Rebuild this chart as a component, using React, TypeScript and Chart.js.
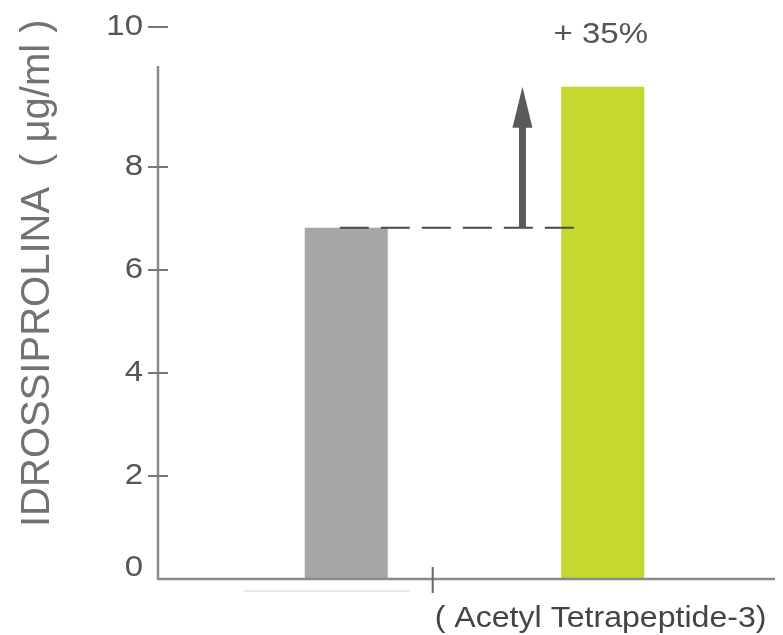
import React, { useEffect, useRef } from 'react';
import { Chart, registerables } from 'chart.js';

Chart.register(...registerables);

// ---- data ----
const categories = ['Controllo', 'Acetyl Tetrapeptide-3'];
const values = [6.82, 9.56];
const barColors = ['#a6a6a6', '#c5d82d'];
const yTickValues = [0, 2, 4, 6, 8, 10];
const yTitleMain = 'IDROSSIPROLINA';
const yTitleUnit = '( μg/ml )';
const xLabel = '( Acetyl Tetrapeptide-3)';
const increaseLabel = '+ 35%';

const FONT = '"Liberation Sans", Arial, Helvetica, sans-serif';

const overlayPlugin = {
  id: 'overlay',
  afterDatasetsDraw(chart: any) {
    const { ctx, chartArea, scales } = chart;
    const xs = scales.x;
    const ys = scales.y;
    const axisX = chartArea.left - 60;
    const axisRight = chart.width - 8;
    const y0 = ys.getPixelForValue(0);
    const yTop = ys.getPixelForValue(10);

    ctx.save();
    // axes
    ctx.strokeStyle = '#8a8a8a';
    ctx.lineWidth = 2.5;
    ctx.beginPath();
    ctx.moveTo(axisX, yTop + 2);
    ctx.lineTo(axisX, y0);
    ctx.lineTo(axisRight, y0);
    ctx.stroke();

    // faint line below axis
    ctx.strokeStyle = '#e2e2e2';
    ctx.lineWidth = 1.5;
    ctx.beginPath();
    ctx.moveTo(xs.getPixelForValue(-0.4), y0 + 12);
    ctx.lineTo(xs.getPixelForValue(0.25), y0 + 12);
    ctx.stroke();

    // x tick
    const xt = xs.getPixelForValue(0.337);
    ctx.strokeStyle = '#666';
    ctx.lineWidth = 2;
    ctx.beginPath();
    ctx.moveTo(xt, y0 - 12);
    ctx.lineTo(xt, y0 + 14);
    ctx.stroke();

    // y ticks and labels
    yTickValues.forEach((v) => {
      let y = ys.getPixelForValue(v);
      if (v === 10) y -= 37;
      if (v !== 0) {
        ctx.strokeStyle = '#777';
        ctx.lineWidth = 2;
        ctx.beginPath();
        ctx.moveTo(axisX - 10, y);
        ctx.lineTo(axisX + 10, y);
        ctx.stroke();
      }
      const ly = v === 0 ? y - 11 : y;
      ctx.save();
      ctx.translate(axisX - 15, ly);
      ctx.scale(1.1, 1);
      ctx.fillStyle = '#555';
      ctx.font = `30px ${FONT}`;
      ctx.textAlign = 'right';
      ctx.textBaseline = 'middle';
      ctx.fillText(String(v), 0, 0);
      ctx.restore();
    });

    // y title (drawn bottom-up)
    ctx.save();
    ctx.translate(49, y0 - 52);
    ctx.rotate(-Math.PI / 2);
    ctx.fillStyle = '#727272';
    ctx.font = `40px ${FONT}`;
    ctx.textAlign = 'left';
    ctx.textBaseline = 'alphabetic';
    ctx.fillText(yTitleMain, 0, 0);
    const mainW = ctx.measureText(yTitleMain).width;
    ctx.fillText(yTitleUnit, mainW + 20, 0);
    ctx.restore();

    // x label
    ctx.save();
    ctx.translate(xt + 2, y0 + 48);
    ctx.scale(1.07, 1);
    ctx.fillStyle = '#444';
    ctx.font = `30px ${FONT}`;
    ctx.textAlign = 'left';
    ctx.textBaseline = 'alphabetic';
    ctx.fillText(xLabel, 0, 0);
    ctx.restore();

    // increase label
    ctx.save();
    ctx.translate(xs.getPixelForValue(1) - 2, 43);
    ctx.scale(1.1, 1);
    ctx.fillStyle = '#555';
    ctx.font = `30px ${FONT}`;
    ctx.textAlign = 'center';
    ctx.textBaseline = 'alphabetic';
    ctx.fillText(increaseLabel, 0, 0);
    ctx.restore();

    // dashed reference line
    const yBase = ys.getPixelForValue(values[0]);
    ctx.strokeStyle = '#4a4a4a';
    ctx.lineWidth = 2;
    ctx.setLineDash([29, 12]);
    ctx.beginPath();
    ctx.moveTo(xs.getPixelForValue(-0.025), yBase);
    ctx.lineTo(xs.getPixelForValue(0.922), yBase);
    ctx.stroke();
    ctx.setLineDash([]);

    // arrow
    const ax = xs.getPixelForValue(0.687);
    const yTip = ys.getPixelForValue(values[1]);
    const headLen = 41;
    ctx.fillStyle = '#5a5a5a';
    ctx.fillRect(ax - 3.5, yTip + headLen - 1, 7, yBase - (yTip + headLen - 1));
    ctx.beginPath();
    ctx.moveTo(ax, yTip);
    ctx.lineTo(ax + 10, yTip + headLen);
    ctx.lineTo(ax - 10, yTip + headLen);
    ctx.closePath();
    ctx.fill();

    ctx.restore();
  },
};

export default function App() {
  const ref = useRef<HTMLCanvasElement | null>(null);
  useEffect(() => {
    if (!ref.current) return;
    const chart = new Chart(ref.current, {
      type: 'bar',
      data: {
        labels: categories,
        datasets: [
          {
            data: values,
            backgroundColor: barColors,
            borderWidth: 0,
            barPercentage: 0.3236,
            categoryPercentage: 1,
          },
        ],
      },
      options: {
        responsive: false,
        animation: false,
        layout: { padding: { left: 218, right: 52, top: 64, bottom: 56 } },
        plugins: { legend: { display: false }, tooltip: { enabled: false } },
        scales: {
          x: { type: 'category', display: false, offset: true },
          y: { min: 0, max: 10, display: false },
        },
      },
      plugins: [overlayPlugin],
    });
    return () => chart.destroy();
  }, []);
  return (
    <div style={{ position: 'absolute', left: 0, top: 0, width: 783, height: 635, background: '#fff' }}>
      <canvas ref={ref} width={783} height={635} style={{ display: 'block' }} />
    </div>
  );
}
